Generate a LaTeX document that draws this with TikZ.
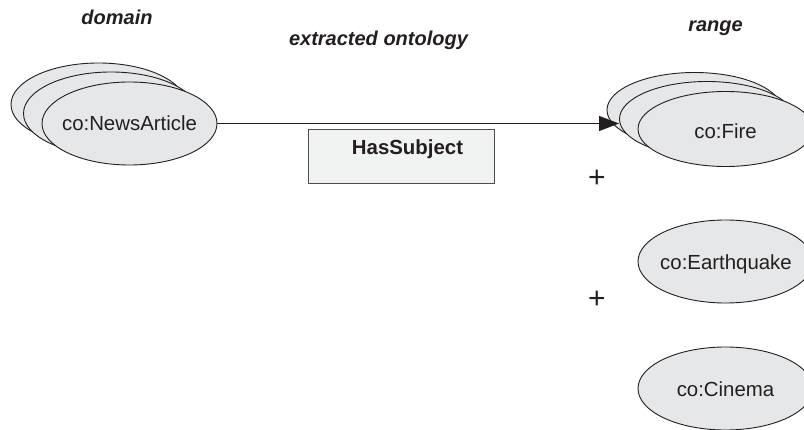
\documentclass[tikz,border=0pt]{standalone}
\usepackage{fontspec}
\setmainfont{Liberation Sans}
\usetikzlibrary{shapes.geometric,arrows.meta}
\definecolor{ink}{HTML}{231F20}
\definecolor{ellfill}{HTML}{E6E7E8}
\definecolor{boxfill}{HTML}{F1F2F2}
\tikzset{
  cls/.style={ellipse, draw=ink, fill=ellfill, line width=0.9pt, inner sep=0pt},
  clsA/.style={cls, minimum width=175pt, minimum height=83pt},
  clsF/.style={cls, minimum width=175pt, minimum height=75pt},
  ctext/.style={anchor=base, inner sep=0pt, text=ink, font=\fontsize{20.4}{24}\selectfont},
  hdr/.style={anchor=base, inner sep=0pt, text=ink, font=\fontsize{20}{24}\selectfont\bfseries\itshape},
  plus/.style={inner sep=0pt, text=ink, font=\fontsize{30}{34}\selectfont},
  relbox/.style={draw=ink!80, fill=boxfill, line width=0.9pt, minimum width=186pt, minimum height=54pt, inner sep=0pt},
}
\begin{document}
\begin{tikzpicture}[x=1pt,y=-1pt]
\useasboundingbox (0,0) rectangle (804,430);
\clip (0,0) rectangle (804,430);
% domain
\node[clsA] (naB) at (98.5,104.5) {};
\node[clsA] (naM) at (111,113.5) {};
\node[clsA] (na) at (129.5,123.5) {};
\node[ctext] (natxt) at (129.5,131) {co:NewsArticle};
% range: fire
\node[clsF] (fireB) at (694.5,110) {};
\node[clsF] (fireM) at (707,119) {};
\node[clsF] (fire) at (725.5,129) {};
\node[ctext] (firetxt) at (725.5,139) {co:Fire};
% earthquake, cinema
\node[clsA] (eq) at (725.5,261.5) {};
\node[ctext] (eqtxt) at (726,269.5) {co:Earthquake};
\node[clsA] (cin) at (725.5,388.5) {};
\node[ctext] (cintxt) at (725.5,397) {co:Cinema};
% relation
\coordinate (tip) at (619,123.5);
\draw[ink, line width=1.2pt, -{Triangle[length=20pt,width=15pt]}] (na.east) -- (tip);
\node[relbox] (rel) at (401,156) {};
\node[ctext, font=\fontsize{20.4}{24}\selectfont\bfseries] (reltxt) at (407.5,154.3) {HasSubject};
% plus signs
\node[plus] (p1) at (597,179) {+};
\node[plus] (p2) at (597,299.5) {+};
% headers
\node[hdr] (dom) at (117,25) {domain};
\node[hdr] (ext) at (378.5,45.5) {extracted ontology};
\node[hdr] (rng) at (715.5,32) {range};
\end{tikzpicture}
\end{document}
